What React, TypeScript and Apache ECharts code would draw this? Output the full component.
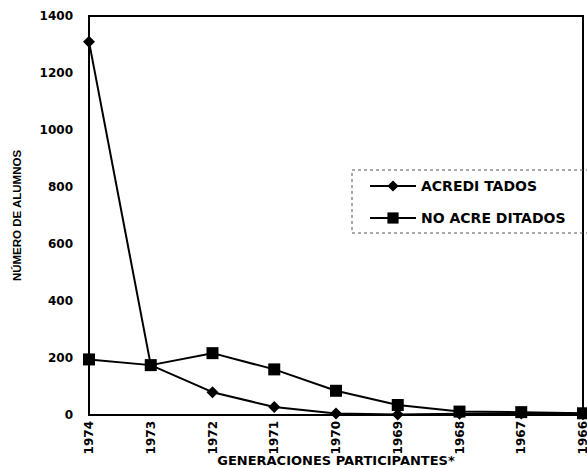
import React, { useEffect, useRef } from "react";
import * as echarts from "echarts";

const categories = ["1974", "1973", "1972", "1971", "1970", "1969", "1968", "1967", "1966"];
const acreditados = [1310, 175, 80, 28, 5, 2, 4, 5, 3];
const noAcreditados = [195, 175, 217, 160, 85, 35, 12, 10, 6];
const yTicks = [0, 200, 400, 600, 800, 1000, 1200, 1400];

export default function App() {
  const ref = useRef<HTMLDivElement>(null);
  useEffect(() => {
    const chart = echarts.init(ref.current!, null, { renderer: "svg" });
    const font = "Liberation Sans, Arial, sans-serif";
    const wide = "DejaVu Sans, sans-serif";
    chart.setOption({
      animation: false,
      backgroundColor: "#fff",
      grid: {
        left: 89, right: 4, top: 16, bottom: 53,
        outerBoundsMode: "none",
        containLabel: false,
        show: true, borderColor: "#000", borderWidth: 2, backgroundColor: "transparent",
      },
      legend: {
        orient: "vertical",
        left: 364, top: 174,
        itemWidth: 46, itemHeight: 14, itemGap: 18,
        textStyle: { color: "#000", fontWeight: "bold", fontSize: 14, fontFamily: wide },
        data: ["ACREDI TADOS", "NO ACRE DITADOS"],
      },
      graphic: [
        {
          type: "rect",
          shape: { x: 352, y: 170, width: 240, height: 63 },
          style: { fill: "none", stroke: "#555", lineWidth: 1, lineDash: [3, 3] },
          z: 10,
        },
      ],
      xAxis: {
        type: "category",
        data: categories,
        boundaryGap: false,
        name: "GENERACIONES PARTICIPANTES*",
        nameLocation: "middle",
        nameGap: 39,
        nameMoveOverlap: false,
        nameTextStyle: { color: "#000", fontWeight: "bold", fontSize: 13, fontFamily: wide },
        axisLine: { lineStyle: { color: "#000", width: 2 } },
        axisTick: { show: false },
        axisLabel: { rotate: 90, color: "#000", fontWeight: "bold", fontSize: 12, fontFamily: wide, margin: 6 },
        splitLine: { show: false },
      },
      yAxis: {
        type: "value",
        min: 0, max: 1400, interval: 200,
        name: "NÚMERO DE ALUMNOS",
        nameLocation: "middle",
        nameGap: 66,
        nameRotate: 90,
        nameMoveOverlap: false,
        nameTextStyle: { color: "#000", fontWeight: "bold", fontSize: 11.5, fontFamily: font },
        axisLine: { show: true, lineStyle: { color: "#000", width: 2 } },
        axisTick: { show: false },
        axisLabel: {
          color: "#000", fontWeight: "bold", fontSize: 12, fontFamily: wide, margin: 16,
          formatter: (v: number) => (yTicks.includes(v) ? String(v) : ""),
        },
        splitLine: { show: false },
      },
      series: [
        {
          name: "ACREDI TADOS",
          type: "line",
          data: acreditados,
          symbol: "diamond",
          symbolSize: 12,
          lineStyle: { color: "#000", width: 2 },
          itemStyle: { color: "#000" },
        },
        {
          name: "NO ACRE DITADOS",
          type: "line",
          data: noAcreditados,
          symbol: "rect",
          symbolSize: 12,
          lineStyle: { color: "#000", width: 2 },
          itemStyle: { color: "#000" },
        },
      ],
    });
    return () => chart.dispose();
  }, []);
  return <div ref={ref} style={{ width: 587, height: 468, position: "absolute", left: 0, top: 0 }} />;
}
